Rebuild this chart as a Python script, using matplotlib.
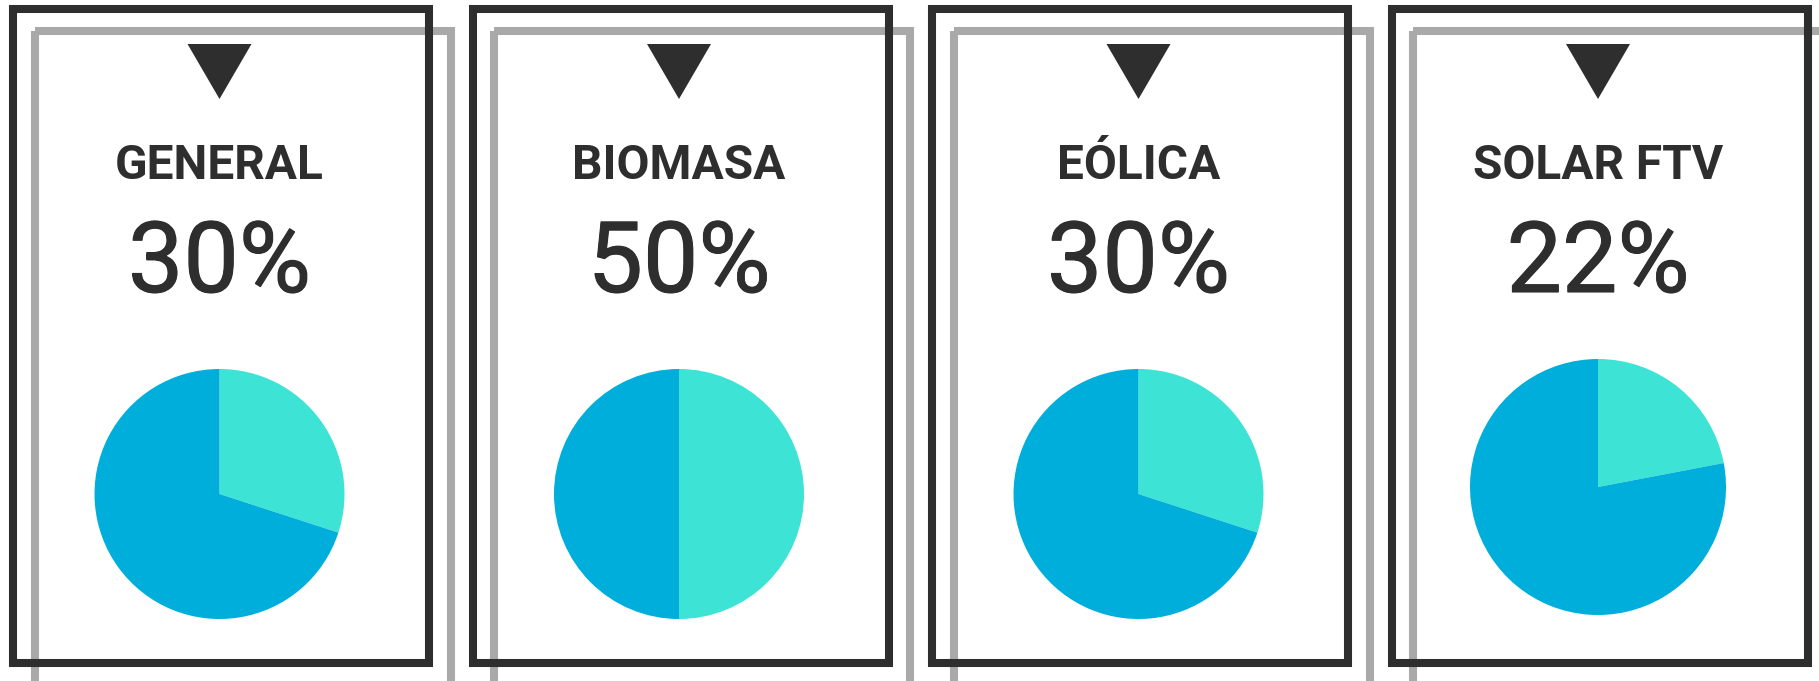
import matplotlib
matplotlib.use("Agg")
import matplotlib.pyplot as plt
import matplotlib.patheffects as pe
from matplotlib.patches import Rectangle, Polygon

# data
categories = ["GENERAL", "BIOMASA", "EÓLICA", "SOLAR FTV"]
shares = [30, 50, 30, 22]  # percent

LIGHT = "#3de3d5"
BLUE = "#00aedb"
DARK = "#2e2e2e"
GREY = "#a9a9a9"

W, H = 1819, 681
fig = plt.figure(figsize=(W / 100, H / 100), dpi=100)
fig.patch.set_facecolor("white")

# overlay axes in pixel coords (y down)
ov = fig.add_axes([0, 0, 1, 1])
ov.set_xlim(0, W)
ov.set_ylim(H, 0)
ov.axis("off")

step = 459.5
box_w, box_h = 416, 654
off = 21.5
lw = 5.8

pie_cy = [494, 494, 494, 487]
pie_r = [125, 125, 125, 128]

for i, (cat, pct) in enumerate(zip(categories, shares)):
    x0 = 13 + i * step
    y0 = 9
    cx = x0 + box_w / 2 - 1.5

    # grey shadow frame, then dark frame
    ov.add_patch(Rectangle((x0 + off, y0 + off + 0.5), box_w, box_h + 40, fill=False,
                           edgecolor=GREY, linewidth=lw, zorder=1))
    ov.add_patch(Rectangle((x0, y0), box_w, box_h, fill=False,
                           edgecolor=DARK, linewidth=lw, zorder=2))

    # down triangle
    ov.add_patch(Polygon([(cx - 32, 44), (cx + 32, 44), (cx, 99)],
                         closed=True, facecolor=DARK, edgecolor="none", zorder=3))

    ov.text(cx, 166, cat, ha="center", va="center", fontsize=34.5,
            fontweight="bold", family="Roboto", color=DARK)
    ov.text(cx, 265, f"{pct}%", ha="center", va="center", fontsize=71,
            family="Roboto", color=DARK,
            path_effects=[pe.withStroke(linewidth=0.8, foreground=DARK)])

    # pie
    r = pie_r[i]
    cy = pie_cy[i]
    ax = fig.add_axes([(cx - r) / W, (H - cy - r) / H, 2 * r / W, 2 * r / H])
    ax.pie([pct, 100 - pct], colors=[LIGHT, BLUE], startangle=90,
           counterclock=False, radius=1,
           wedgeprops=dict(linewidth=0, edgecolor="none"))
    ax.set_xlim(-1, 1)
    ax.set_ylim(-1, 1)
    ax.axis("off")

fig.savefig("out.png", dpi=100, facecolor="white")
